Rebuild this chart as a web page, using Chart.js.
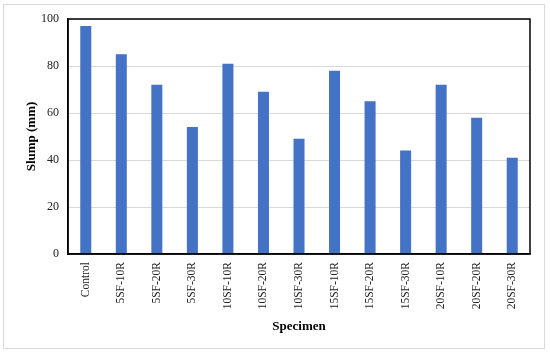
<!DOCTYPE html>
<html>
<head>
<meta charset="utf-8">
<script src="https://cdn.jsdelivr.net/npm/chart.js@4"></script>
<style>
  html, body { margin: 0; padding: 0; background: #fff; }
  #wrap { width: 550px; height: 353px; }
</style>
</head>
<body>
<div id="wrap"><canvas id="barChart" width="550" height="353"></canvas></div>
<script>
const labels = ['Control', '5SF-10R', '5SF-20R', '5SF-30R', '10SF-10R', '10SF-20R', '10SF-30R',
  '15SF-10R', '15SF-20R', '15SF-30R', '20SF-10R', '20SF-20R', '20SF-30R'];
const slump = [97, 85, 72, 54, 81, 69, 49, 78, 65, 44, 72, 58, 41];
const yTicks = [0, 20, 40, 60, 80, 100];

const serif = '"Liberation Serif", "Times New Roman", serif';

// light frame round the whole figure + box round the plot area
const frames = {
  id: 'frames',
  beforeDraw(chart) {
    const c = chart.ctx;
    c.save();
    c.strokeStyle = '#d9d9d9';
    c.lineWidth = 1;
    c.strokeRect(3.5, 4.5, 541, 344);
    c.restore();
  },
  afterDraw(chart) {
    const a = chart.chartArea;
    const c = chart.ctx;
    c.save();
    c.strokeStyle = '#000';
    c.lineWidth = 1.5;
    c.strokeRect(a.left, a.top, a.right - a.left, a.bottom - a.top);
    c.restore();
  }
};

new Chart(document.getElementById('barChart').getContext('2d'), {
  type: 'bar',
  data: {
    labels: labels,
    datasets: [{
      label: 'Slump',
      data: slump,
      backgroundColor: '#4472C4',
      barPercentage: 0.31,
      categoryPercentage: 1
    }]
  },
  options: {
    responsive: false,
    animation: false,
    layout: { padding: { left: 20, top: 19, right: 20, bottom: 15 } },
    plugins: { legend: { display: false }, tooltip: { enabled: false } },
    scales: {
      x: {
        grid: { display: false, drawTicks: false },
        border: { color: '#000', width: 1.5 },
        ticks: { font: { family: serif, size: 11.5 }, color: '#222', minRotation: 90, maxRotation: 90, padding: 8, autoSkip: false },
        title: { display: true, text: 'Specimen', font: { family: serif, size: 13, weight: 'bold' }, color: '#000', padding: { top: 4 } },
        afterFit(s) { s.height = 84; }
      },
      y: {
        min: 0,
        max: 100,
        afterBuildTicks(s) { s.ticks = yTicks.map(v => ({ value: v })); },
        grid: { color: '#d9d9d9', drawTicks: false },
        border: { color: '#000', width: 1.5 },
        ticks: { font: { family: serif, size: 12 }, color: '#222', padding: 9 },
        title: { display: true, text: 'Slump (mm)', font: { family: serif, size: 13, weight: 'bold' }, color: '#000', padding: { bottom: 0 } },
        afterFit(s) { s.width = 48; }
      }
    }
  },
  plugins: [frames]
});
</script>
</body>
</html>
